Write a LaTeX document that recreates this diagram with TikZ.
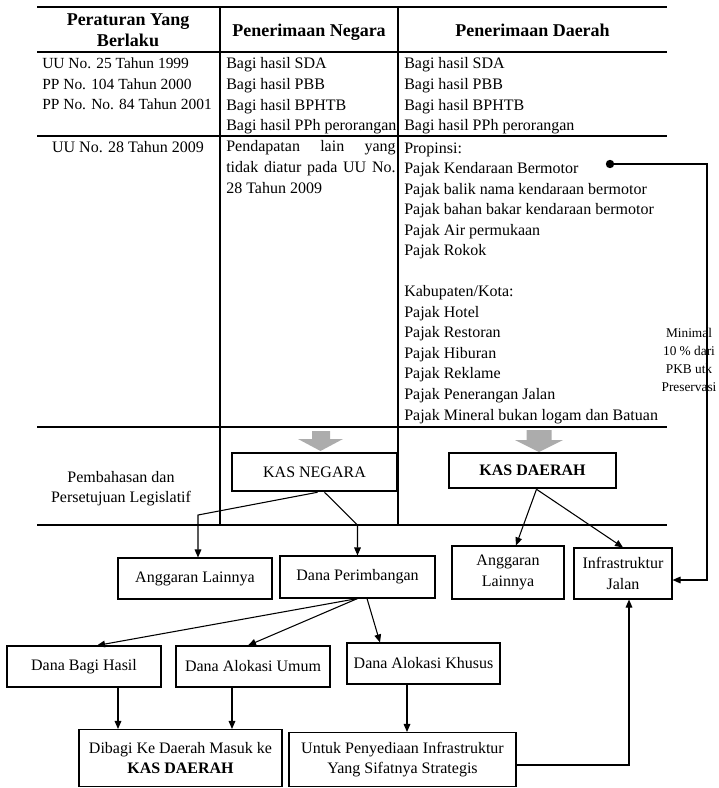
\documentclass[tikz,border=0pt]{standalone}
\usepackage{fontspec}
\setmainfont{Liberation Serif}
\usetikzlibrary{arrows.meta,calc}
\newdimen\upx \upx=0.75pt
\newcommand\tabfont{\fontsize{12}{15.7}\selectfont}
\newcommand\hdfont{\fontsize{13.5}{15.75}\selectfont\bfseries}
\newcommand\notefont{\fontsize{10}{13.5}\selectfont}
\newcommand\boxfont{\fontsize{12}{15}\selectfont}

\begin{document}
\begin{tikzpicture}[x=0.75pt,y=-0.75pt,
  rule/.style={line width=0.9pt},
  % multi-line texts are placed by the baseline of their last line
  txt/.style={anchor=base west,inner sep=0pt,font=\tabfont,align=left},
  hd/.style={anchor=base,inner sep=0pt,font=\hdfont,align=center},
  box/.style={draw,line width=0.8pt,inner sep=0pt,font=\boxfont,align=center},
  kas/.style={box,line width=1.9pt},
  arr/.style={line width=0.8pt,-{Triangle[length=6pt,width=5pt]}},
  bigarrow/.style={fill=gray!65,draw=none}]

\useasboundingbox (0,0) rectangle (718,788);

% table rules
\draw[rule] (37,7) -- (667,7);
\draw[rule] (37,52) -- (667,52);
\draw[line width=1.3pt] (37,136) -- (667,136);
\draw[rule] (37,427) -- (667,427);
\draw[rule] (37,525) -- (667,525);
\draw[rule] (220,7) -- (220,525);
\draw[rule] (398,7) -- (398,525);

% headers
\node[hd] (h1) at (128,47) {Peraturan Yang\\Berlaku};
\node[hd] (h2) at (309,37) {Penerimaan Negara};
\node[hd] (h3) at (532.5,37) {Penerimaan Daerah};

% first row
\node[txt,font=\fontsize{11.6}{15.7}\selectfont] (r1a) at (42,110) {UU No. 25 Tahun 1999\\PP No. 104 Tahun 2000\\PP No. No. 84 Tahun 2001};
\node[txt] (r1b) at (226,131) {Bagi hasil SDA\\Bagi hasil PBB\\Bagi hasil BPHTB\\Bagi hasil PPh perorangan};
\node[txt] (r1c) at (404,131) {Bagi hasil SDA\\Bagi hasil PBB\\Bagi hasil BPHTB\\Bagi hasil PPh perorangan};

% second row
\node[anchor=base,inner sep=0pt,font=\tabfont] (r2a) at (128,152) {UU No. 28 Tahun 2009};
\node[txt,font=\fontsize{12}{15.4}\selectfont] (r2b) at (226,193)
  {\makebox[127pt][s]{Pendapatan lain yang}\\\makebox[127pt][s]{tidak diatur pada UU No.}\\28 Tahun 2009};
\node[txt,font=\fontsize{12}{15.4}\selectfont] (r2c) at (404,420)
  {Propinsi:\\Pajak Kendaraan Bermotor\\Pajak balik nama kendaraan bermotor\\Pajak bahan bakar kendaraan bermotor\\Pajak Air permukaan\\Pajak Rokok\\[15.4pt]Kabupaten/Kota:\\Pajak Hotel\\Pajak Restoran\\Pajak Hiburan\\Pajak Reklame\\Pajak Penerangan Jalan\\Pajak Mineral bukan logam dan Batuan};

% third row
\node[anchor=base,inner sep=0pt,font=\boxfont,align=center] (leg) at (121,502) {Pembahasan dan\\Persetujuan Legislatif};
\fill[bigarrow] (312,431) -- (330,431) -- (330,439) -- (343,439) -- (320.5,451) -- (298,439) -- (312,439) -- cycle;
\fill[bigarrow] (526.5,430) -- (551.5,430) -- (551.5,440) -- (563,440) -- (539,452) -- (515,440) -- (526.5,440) -- cycle;
\node[kas,minimum width=165\upx,minimum height=38\upx] (kn) at (314.5,472) {KAS NEGARA};
\node[kas,minimum width=167\upx,minimum height=35\upx,font=\boxfont\bfseries] (kd) at (532.5,470.5) {KAS DAERAH};

% flow boxes
\node[box,minimum width=154\upx,minimum height=41\upx] (al1) at (195,578.5) {Anggaran Lainnya};
\node[box,minimum width=155\upx,minimum height=42\upx] (dp) at (357.5,577) {Dana Perimbangan};
\node[box,minimum width=112\upx,minimum height=53\upx,font=\fontsize{12}{16}\selectfont] (al2) at (508,572.5) {Anggaran\\Lainnya};
\node[box,minimum width=98\upx,minimum height=51\upx,font=\fontsize{12}{16}\selectfont] (inf) at (623,573.5) {Infrastruktur\\Jalan};
\node[box,minimum width=154\upx,minimum height=41\upx] (dbh) at (84,666.5) {Dana Bagi Hasil};
\node[box,minimum width=154\upx,minimum height=41\upx] (dau) at (253,666.5) {Dana Alokasi Umum};
\node[box,minimum width=153\upx,minimum height=41\upx] (dak) at (423.5,663.5) {Dana Alokasi Khusus};
\node[box,minimum width=203\upx,minimum height=57\upx] (dib) at (180.5,758) {Dibagi Ke Daerah Masuk ke\\\textbf{KAS DAERAH}};
\node[box,minimum width=227\upx,minimum height=54\upx] (unt) at (402.5,759.5) {Untuk Penyediaan Infrastruktur\\Yang Sifatnya Strategis};

% connectors
\coordinate (k1) at (198,515);
\coordinate (k2) at (357.5,525);
\draw[arr] ([xshift=3\upx]kn.south) -- (k1) -- (k1 |- al1.north);
\draw[arr] ([xshift=10\upx]kn.south) -- (k2) -- (dp.north);
\draw[arr] ([xshift=4\upx]kd.south) -- ([xshift=8\upx]al2.north);
\draw[arr] ([xshift=4\upx]kd.south) -- (inf.north);
\draw[arr] (dp.south) -- ([xshift=13\upx]dbh.north);
\draw[arr] (dp.south) -- ([xshift=-5\upx]dau.north);
\draw[arr] ([xshift=9.5\upx]dp.south) -- ([xshift=-43.5\upx]dak.north);
\draw[arr] (dbh.south -| 118,0) -- (dib.north -| 118,0);
\draw[arr] (dau.south -| 232,0) -- (dib.north -| 232,0);
\draw[arr] (dak.south -| 407,0) -- (unt.north -| 407,0);
\draw[arr] (unt.east |- 0,765) -| (inf.south -| 629,0);

% PKB share line
\coordinate (pkb) at (610,164);
\coordinate (c1) at (707,164);
\coordinate (c2) at (707,580);
\fill (pkb) circle[radius=4.2\upx];
\draw[arr] (pkb) -- (c1) -- (c2) -- (inf.east |- c2);
\node[anchor=base,inner sep=0pt,font=\notefont,align=center] (note) at (689,391) {Minimal\\10 \% dari\\PKB utk\\Preservasi};
\end{tikzpicture}
\end{document}
